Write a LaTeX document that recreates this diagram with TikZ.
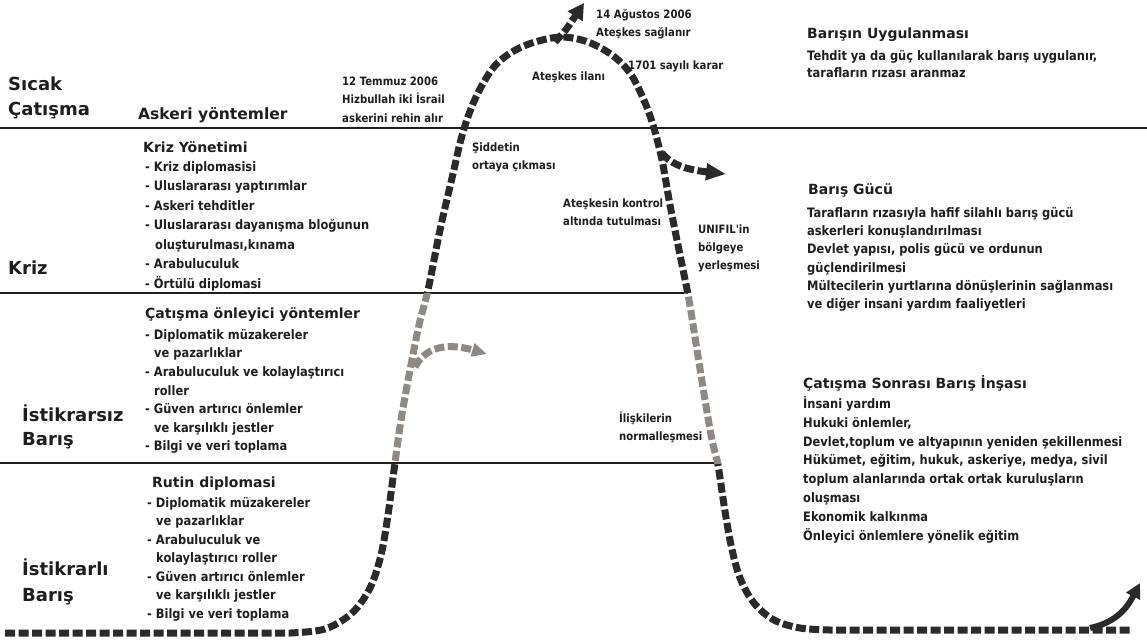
\documentclass[tikz,border=0pt]{standalone}
\usepackage{fontspec}
\setmainfont{DejaVu Sans}
\newfontfamily\bodyf{DejaVu Sans}[FakeStretch=0.88]
\usetikzlibrary{arrows.meta}
\definecolor{ink}{HTML}{1E1E1E}
\definecolor{curvedark}{HTML}{2A2A2A}
\definecolor{curvegray}{HTML}{8E8984}
\newcommand\maincurve[1]{%
  \draw[dashcurve,#1] (5,633) -- plot[smooth,tension=0.55] coordinates {
    (290,633) (325,629) (352,613) (370,588) (381,555) (388,515) (394,470)
    (401,420) (410,370) (419,325) (428,290) (440,230) (452,178) (463,132)
    (476,97) (493,68) (512,52) (535,42) (562,37) (588,42) (612,55) (630,73)
    (643,98) (653,125) (662,160) (670,205) (680,255) (689,300) (697,350)
    (705,400) (712,440) (718,465) (724,505) (731,545) (740,578) (754,603)
    (774,620) (800,628) (830,630)} -- (1132,630);}
\begin{document}
\begin{tikzpicture}[x=1pt,y=-1pt,
  body/.style={anchor=north west, inner sep=0pt, align=left, text=ink,
    font=\bodyf\bfseries\fontsize{13}{#1}\selectfont},
  body/.default=18.5,
  lab/.style={anchor=north west, inner sep=0pt, align=left, text=ink,
    font=\bodyf\bfseries\fontsize{11.5}{#1}\selectfont},
  lab/.default=18.5,
  head/.style={anchor=base west, inner sep=0pt, text=ink,
    font=\bfseries\fontsize{14}{17}\selectfont},
  big/.style={anchor=base west, inner sep=0pt, text=ink,
    font=\bfseries\fontsize{18}{22}\selectfont},
  mid/.style={anchor=base west, inner sep=0pt, text=ink,
    font=\bfseries\fontsize{15.5}{19}\selectfont},
  sep/.style={line width=2pt, draw=ink},
  dashcurve/.style={line width=7pt, dash pattern=on 10pt off 3.5pt},
]
\fill[white] (0,0) rectangle (1147,641);
\useasboundingbox (0,0) rectangle (1147,641);

% separator lines
\draw[sep] (0,128) -- (1147,128);
\draw[sep] (0,293) -- (688,293);
\draw[sep] (0,463) -- (718,463);

% main curve: dark outside the unstable band, grey inside it
\begin{scope}
  \clip (0,0) rectangle (1147,293) (0,463) rectangle (1147,641);
  \maincurve{curvedark}
\end{scope}
\begin{scope}
  \clip (0,293) rectangle (1147,463);
  \maincurve{curvegray}
\end{scope}

% branch arrows
\coordinate (peak) at (555,42);
\coordinate (peaktip) at (584,3);
\draw[dashcurve, curvedark, -{Triangle[length=16pt,width=17pt]}]
  (peak) .. controls (566,30) .. (peaktip);
\coordinate (rbr) at (662,153);
\coordinate (rtip) at (726,174);
\draw[dashcurve, curvedark, -{Triangle[length=20pt,width=16pt]}]
  (rbr) .. controls (672,166) and (690,170) .. (rtip);
\coordinate (lbr) at (415,367);
\coordinate (ltip) at (487,354);
\draw[dashcurve, curvegray, -{Triangle[length=15pt,width=13pt]}]
  (lbr) .. controls (425,348) and (445,342) .. (ltip);
\coordinate (bbr) at (1090,628);
\coordinate (btip) at (1140,583);
\draw[line width=6pt, curvedark, -{Triangle[length=15pt,width=15pt]}]
  (bbr) .. controls (1118,622) and (1128,606) .. (btip);

% left level labels
\node[big] (sicak) at (8,90) {Sıcak};
\node[big] (catisma) at (8,115) {Çatışma};
\node[mid] (askeri) at (138,119) {Askeri yöntemler};
\node[big] (kriz) at (8,274) {Kriz};
\node[big] (istikrarsiz) at (22,421) {İstikrarsız};
\node[big] (baris1) at (22,445) {Barış};
\node[big] (istikrarli) at (22,575) {İstikrarlı};
\node[big] (baris2) at (22,601) {Barış};

% left method blocks
\node[head] (krizh) at (143,152) {Kriz Yönetimi};
\node[body=19.5] (krizl) at (145,158.5) {\rule{0pt}{12.5pt}- Kriz diplomasisi\\
- Uluslararası yaptırımlar\\
- Askeri tehditler\\
- Uluslararası dayanışma bloğunun\\
\hspace*{10pt}oluşturulması,kınama\\
- Arabuluculuk\\
- Örtülü diplomasi};

\node[head] (onh) at (145,318) {Çatışma önleyici yöntemler};
\node[body=18.6] (onl) at (145,326.5) {\rule{0pt}{12.5pt}- Diplomatik müzakereler\\
\hspace*{9pt}ve pazarlıklar\\
- Arabuluculuk ve kolaylaştırıcı\\
\hspace*{9pt}roller\\
- Güven artırıcı önlemler\\
\hspace*{9pt}ve karşılıklı jestler\\
- Bilgi ve veri toplama};

\node[head] (rutinh) at (152,487) {Rutin diplomasi};
\node[body=18.5] (rutinl) at (147,494.5) {\rule{0pt}{12.5pt}- Diplomatik müzakereler\\
\hspace*{9pt}ve pazarlıklar\\
- Arabuluculuk ve\\
\hspace*{9pt}kolaylaştırıcı roller\\
- Güven artırıcı önlemler\\
\hspace*{9pt}ve karşılıklı jestler\\
- Bilgi ve veri toplama};

% event labels along the curve
\node[lab] (temmuz) at (342,73) {\rule{0pt}{12pt}12 Temmuz 2006\\Hizbullah iki İsrail\\askerini rehin alır};
\node[lab] (agustos) at (596,6) {\rule{0pt}{12pt}14 Ağustos 2006\\Ateşkes sağlanır};
\node[lab] (ilan) at (532,68) {\rule{0pt}{12pt}Ateşkes ilanı};
\node[lab] (karar) at (628,57) {\rule{0pt}{12pt}1701 sayılı karar};
\node[lab=18] (siddet) at (472,139) {\rule{0pt}{12pt}Şiddetin\\ortaya çıkması};
\node[lab=18.5] (kontrol) at (563,195) {\rule{0pt}{12pt}Ateşkesin kontrol\\altında tutulması};
\node[lab=18] (unifil) at (698,221) {\rule{0pt}{12pt}UNIFIL'in\\bölgeye\\yerleşmesi};
\node[lab=18] (iliski) at (619,410) {\rule{0pt}{12pt}İlişkilerin\\normalleşmesi};

% right descriptions
\node[head] (uygh) at (807,38) {Barışın Uygulanması};
\node[body=17.5] (uygl) at (807,47.5) {\rule{0pt}{12.5pt}Tehdit ya da güç kullanılarak barış uygulanır,\\tarafların rızası aranmaz};

\node[head] (guch) at (808,194) {Barış Gücü};
\node[body=18.3] (gucl) at (807,204.5) {\rule{0pt}{12.5pt}Tarafların rızasıyla hafif silahlı barış gücü\\
askerleri konuşlandırılması\\
Devlet yapısı, polis gücü ve ordunun\\
güçlendirilmesi\\
Mültecilerin yurtlarına dönüşlerinin sağlanması\\
ve diğer insani yardım faaliyetleri};

\node[head] (insah) at (803,388) {Çatışma Sonrası Barış İnşası};
\node[body=18.9] (insal) at (803,395.5) {\rule{0pt}{12.5pt}İnsani yardım\\
Hukuki önlemler,\\
Devlet,toplum ve altyapının yeniden şekillenmesi\\
Hükümet, eğitim, hukuk, askeriye, medya, sivil\\
toplum alanlarında ortak ortak kuruluşların\\
oluşması\\
Ekonomik kalkınma\\
Önleyici önlemlere yönelik eğitim};
\end{tikzpicture}
\end{document}
